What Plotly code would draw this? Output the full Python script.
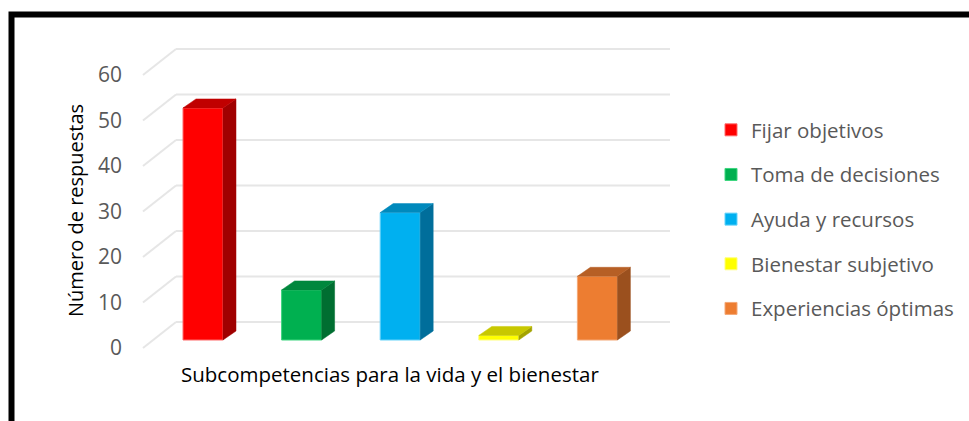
import plotly.graph_objects as go

# ---- data ----
categories = ["Fijar objetivos", "Toma de decisiones", "Ayuda y recursos",
              "Bienestar subjetivo", "Experiencias óptimas"]
values = [51, 11, 28, 1, 14]
tick_values = [0, 10, 20, 30, 40, 50, 60]
tick_labels = ["0", "10", "20", "30", "40", "50", "60"]
y_title = "Número de respuestas"
x_title = "Subcompetencias para la vida y el bienestar"

front_colors = ["#FF0000", "#00B050", "#00B0F0", "#FFFF00", "#ED7D31"]
edge_colors = ["#FF6B6B", "#3DD67F", "#66D3FA", "#FFFF7A", "#F4A876"]
top_colors = ["#C00000", "#00873D", "#0089BC", "#C8C800", "#B65F25"]
side_colors = ["#A00000", "#006E31", "#006E9B", "#A3A300", "#9B501E"]

# ---- layout geometry (pixels) ----
W, H = 969, 421
PX_PER_CAT = 98.6
FIRST_CENTER = 203
PX_PER_UNIT = 4.55
ZERO_Y = 340

x0 = -FIRST_CENTER / PX_PER_CAT
x1 = x0 + W / PX_PER_CAT
y0 = -(H - ZERO_Y) / PX_PER_UNIT
y1 = ZERO_Y / PX_PER_UNIT

bar_w = 40 / PX_PER_CAT
dx = 13 / PX_PER_CAT
dy = 9 / PX_PER_UNIT

back_off = (ZERO_Y - 322) / PX_PER_UNIT
back_xl = (176 - FIRST_CENTER) / PX_PER_CAT
back_xr = (670 - FIRST_CENTER) / PX_PER_CAT
front_off = (ZERO_Y - 348) / PX_PER_UNIT
front_x = (143 - FIRST_CENTER) / PX_PER_CAT

fig = go.Figure()

# gridlines (floor diagonal + back wall), drawn below the bars
for t in tick_values:
    fig.add_shape(type="line", xref="x", yref="y", layer="below",
                  x0=front_x, y0=t + front_off, x1=back_xl, y1=t + back_off,
                  line=dict(color="#E6E6E6", width=2))
    fig.add_shape(type="line", xref="x", yref="y", layer="below",
                  x0=back_xl, y0=t + back_off, x1=back_xr, y1=t + back_off,
                  line=dict(color="#E6E6E6", width=2))

xs = list(range(len(categories)))
for i, (name, v) in enumerate(zip(categories, values)):
    xl = xs[i] - bar_w / 2
    xr = xs[i] + bar_w / 2
    # side face
    fig.add_trace(go.Scatter(
        x=[xr, xr + dx, xr + dx, xr, xr],
        y=[0, dy, v + dy, v, 0],
        fill="toself", fillcolor=side_colors[i], mode="lines",
        line=dict(color=side_colors[i], width=0.5),
        showlegend=False, hoverinfo="skip"))
    # top face
    fig.add_trace(go.Scatter(
        x=[xl, xl + dx, xr + dx, xr, xl],
        y=[v, v + dy, v + dy, v, v],
        fill="toself", fillcolor=top_colors[i], mode="lines",
        line=dict(color=top_colors[i], width=0.5),
        showlegend=False, hoverinfo="skip"))
    # front face
    fig.add_trace(go.Bar(
        x=[xs[i]], y=[v], width=bar_w, name=name,
        marker=dict(color=front_colors[i], line=dict(color=edge_colors[i], width=1)),
        legendgroup=name, showlegend=True))

# invisible trace to activate tick-label axis
fig.add_trace(go.Scatter(x=[0], y=[0], yaxis="y2", mode="markers",
                         marker=dict(opacity=0), showlegend=False, hoverinfo="skip"))

fig.update_layout(
    width=W, height=H,
    margin=dict(l=0, r=0, t=0, b=0),
    paper_bgcolor="white", plot_bgcolor="rgba(0,0,0,0)",
    barmode="overlay",
    font=dict(family="Open Sans", color="#595959"),
    xaxis=dict(range=[x0, x1], visible=False, fixedrange=True, domain=[0, 1]),
    yaxis=dict(range=[y0, y1], visible=False, fixedrange=True, domain=[0, 1]),
    yaxis2=dict(overlaying="y", anchor="free", position=122 / W, side="left",
                range=[-(H - 348) / PX_PER_UNIT, 348 / PX_PER_UNIT],
                tickvals=tick_values, ticktext=tick_labels,
                showgrid=False, zeroline=False, showline=False, ticks="",
                tickfont=dict(size=21, color="#595959", family="Open Sans"),
                fixedrange=True),
    legend=dict(x=711 / W, y=1 - 110 / H, xanchor="left", yanchor="top",
                font=dict(size=20.5, color="#595959", family="Open Sans"),
                tracegroupgap=15, traceorder="grouped",
                bgcolor="rgba(0,0,0,0)"),
    showlegend=True,
)

fig.add_annotation(text=y_title, xref="paper", yref="paper",
                   x=75 / W, y=1 - 211 / H, xanchor="center", yanchor="middle",
                   showarrow=False, textangle=-90,
                   font=dict(size=20, color="#000000", family="Open Sans"))
fig.add_annotation(text=x_title, xref="paper", yref="paper",
                   x=390 / W, y=1 - 374 / H, xanchor="center", yanchor="middle",
                   showarrow=False,
                   font=dict(size=20.5, color="#000000", family="Open Sans"))

fig.add_shape(type="rect", xref="paper", yref="paper",
              x0=11.5 / W, y0=1 - 14.6 / H, x1=1.05, y1=-0.05,
              line=dict(color="black", width=6), fillcolor="rgba(0,0,0,0)")

fig.write_html("out.html", post_script="document.body.style.margin='0px';",
               config={"displayModeBar": False})
